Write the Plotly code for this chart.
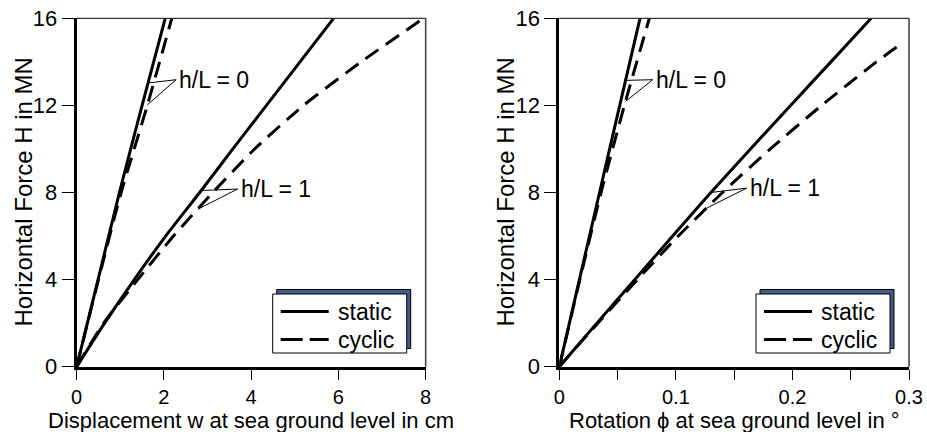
import numpy as np
import plotly.graph_objects as go

# ---- data -------------------------------------------------------------
# Horizontal force levels (MN)
force_coarse = [0, 4, 8, 12, 16]
force_fine = [0, 2, 4, 6, 8, 10, 12, 14, 16]
force_rot_cyclic = [0, 2, 4, 6, 8, 10, 12, 14, 14.9]

# Displacement w at sea ground level (cm)
w_static_hl0 = [0, 0.49, 0.98, 1.50, 2.03]
w_cyclic_hl0 = [0, 0.50, 1.02, 1.62, 2.18]
w_static_hl1 = [0, 0.64, 1.32, 2.04, 2.82, 3.58, 4.35, 5.12, 5.89]
w_cyclic_hl1 = [0, 0.62, 1.40, 2.22, 3.12, 4.08, 5.20, 6.52, 7.95]

# Rotation phi at sea ground level (degrees)
phi_static_hl0 = [0, 0.0172, 0.0345, 0.0518, 0.0692]
phi_cyclic_hl0 = [0, 0.0176, 0.0358, 0.0558, 0.0772]
phi_static_hl1 = [0, 0.0322, 0.0648, 0.0972, 0.1300, 0.1640, 0.1984, 0.2330, 0.2675]
phi_cyclic_hl1 = [0, 0.033, 0.067, 0.102, 0.140, 0.181, 0.225, 0.272, 0.295]

# Curve labels: text anchor (x, H) and the force levels the leader lines point to
label_text = ["h/L = 0", "h/L = 1"]
label_anchor_w = [(2.28, 13.18), (3.69, 8.16)]
label_anchor_phi = [(0.0801, 13.18), (0.1607, 8.20)]
leader_force_w = [(13.03, 12.03), (8.09, 7.23)]
leader_force_phi = [(13.15, 12.18), (8.00, 7.28)]

legend_names = ["static", "cyclic"]

x_title_w = "Displacement w at sea ground level in cm"
x_title_phi = "Rotation \u03d5 at sea ground level in \u00b0"
y_title = "Horizontal Force H in MN"

x_ticks_w = [0, 2, 4, 6, 8]
x_ticks_phi = [0, 0.1, 0.2, 0.3]
y_ticks = [0, 4, 8, 12, 16]

# ---- styling ----------------------------------------------------------
W, H = 927, 432
FONT = "Liberation Sans, Arial, sans-serif"
SOLID = dict(color="black", width=3)
DASHED = dict(color="black", width=3, dash="16px,9px")
SHADOW = "#415a87"


def px(x):
    return x / W


def py(y):
    return 1 - y / H


fig = go.Figure()

panels = [
    dict(xa="x", ya="y",
         curves=[(w_static_hl0, force_coarse, SOLID),
                 (w_cyclic_hl0, force_coarse, DASHED),
                 (w_static_hl1, force_fine, SOLID),
                 (w_cyclic_hl1, force_fine, DASHED)],
         anchors=label_anchor_w, leaders=leader_force_w,
         pairs=[(w_static_hl0, w_cyclic_hl0, force_coarse, force_coarse),
                (w_static_hl1, w_cyclic_hl1, force_fine, force_fine)],
         xtitle=x_title_w, ytitle_x=23, legend_left=272.7),
    dict(xa="x2", ya="y2",
         curves=[(phi_static_hl0, force_coarse, SOLID),
                 (phi_cyclic_hl0, force_coarse, DASHED),
                 (phi_static_hl1, force_fine, SOLID),
                 (phi_cyclic_hl1, force_rot_cyclic, DASHED)],
         anchors=label_anchor_phi, leaders=leader_force_phi,
         pairs=[(phi_static_hl0, phi_cyclic_hl0, force_coarse, force_coarse),
                (phi_static_hl1, phi_cyclic_hl1, force_fine, force_rot_cyclic)],
         xtitle=x_title_phi, ytitle_x=505, legend_left=756.0),
]

shapes = []
annotations = []

for p in panels:
    for xs, ys, style in p["curves"]:
        fig.add_trace(go.Scatter(
            x=xs, y=ys, mode="lines", line=style,
            line_shape="spline", line_smoothing=0.6,
            xaxis=p["xa"], yaxis=p["ya"],
            showlegend=False, hoverinfo="skip"))

    # curve labels with leader lines to the static and cyclic curves
    for (ax, ay), (hs, hc), text, (xs_s, xs_c, fs, fc) in zip(
            p["anchors"], p["leaders"], label_text, p["pairs"]):
        for h, xs, ys in ((hs, xs_s, fs), (hc, xs_c, fc)):
            tx = float(np.interp(h, ys, xs))
            shapes.append(dict(type="line", xref=p["xa"], yref=p["ya"],
                               x0=ax, y0=ay, x1=tx, y1=h,
                               line=dict(color="black", width=1)))
        annotations.append(dict(x=ax, y=ay, xref=p["xa"], yref=p["ya"],
                                text=text, showarrow=False,
                                xanchor="left", yanchor="middle", xshift=1,
                                font=dict(family=FONT, size=23, color="black")))

    # thin top and right frame lines
    dom = dict(xref=p["xa"] + " domain", yref=p["ya"] + " domain")
    shapes.append(dict(type="line", **dom, x0=0, x1=1, y0=1, y1=1,
                       line=dict(color="#333333", width=1.2)))
    shapes.append(dict(type="line", **dom, x0=1, x1=1, y0=0, y1=1,
                       line=dict(color="#444444", width=1.6)))

    # axis titles
    annotations.append(dict(text=p["xtitle"], xref=p["xa"] + " domain", x=0.5,
                            yref="paper", y=0, xanchor="center", yanchor="bottom",
                            borderpad=0, yshift=-2, showarrow=False,
                            font=dict(family=FONT, size=22, color="black")))
    annotations.append(dict(text=y_title, xref="paper", x=px(p["ytitle_x"]),
                            yref=p["ya"] + " domain", y=0.5, textangle=-90,
                            xanchor="center", yanchor="middle", showarrow=False,
                            font=dict(family=FONT, size=24, color="black")))

    # legend box with drop shadow
    L = p["legend_left"]
    top, bw, bh = 294.0, 134.0, 59.0
    shapes.append(dict(type="rect", xref="paper", yref="paper",
                       x0=px(L + 4), x1=px(L + 4 + bw),
                       y0=py(top - 4.5 + bh), y1=py(top - 4.5),
                       fillcolor=SHADOW, line=dict(color="black", width=1),
                       layer="above"))
    shapes.append(dict(type="rect", xref="paper", yref="paper",
                       x0=px(L), x1=px(L + bw), y0=py(top + bh), y1=py(top),
                       fillcolor="white", line=dict(color="black", width=1),
                       layer="above"))
    for k, (name, style) in enumerate(zip(legend_names, (SOLID, dict(DASHED, dash="22px,7px")))):
        yk = top + 17.5 + 28 * k
        shapes.append(dict(type="line", xref="paper", yref="paper",
                           x0=px(L + 8), x1=px(L + 56), y0=py(yk), y1=py(yk),
                           line=style, layer="above"))
        annotations.append(dict(text=name, xref="paper", yref="paper",
                                x=px(L + 63), y=py(yk), xanchor="left",
                                yanchor="middle", showarrow=False,
                                font=dict(family=FONT, size=23, color="black")))

axis_common = dict(
    showline=True, linecolor="black", linewidth=3, mirror=False,
    ticks="outside", ticklen=12, tickwidth=1.3, tickcolor="black",
    showgrid=False, zeroline=False, automargin=False,
    tickfont=dict(family=FONT, size=22, color="black"),
)

y_dom = [0.1512, 0.9576]
x_tick_font = dict(family=FONT, size=20, color="black")

fig.update_layout(
    template="none",
    width=W, height=H,
    margin=dict(l=0, r=0, t=0, b=0, autoexpand=False),
    paper_bgcolor="white", plot_bgcolor="white",
    font=dict(family=FONT, color="black"),
    showlegend=False,
    xaxis=dict(axis_common, domain=[0.0827, 0.4592], range=[0, 8],
               tickvals=x_ticks_w, tickfont=x_tick_font, ticklen=10),
    yaxis=dict(axis_common, domain=y_dom, range=[0, 16], tickvals=y_ticks),
    xaxis2=dict(axis_common, domain=[0.6034, 0.9806], range=[0, 0.3],
                tickvals=x_ticks_phi, ticktext=["0", "0.1", "0.2", "0.3"],
                tickfont=x_tick_font, ticklen=10,
                minor=dict(dtick=0.05, tick0=0, ticks="outside", ticklen=10,
                           tickwidth=1.3, tickcolor="black"),
                anchor="y2"),
    yaxis2=dict(axis_common, domain=y_dom, range=[0, 16], tickvals=y_ticks,
                anchor="x2"),
    shapes=shapes,
    annotations=annotations,
)

fig.write_html("out.html")
